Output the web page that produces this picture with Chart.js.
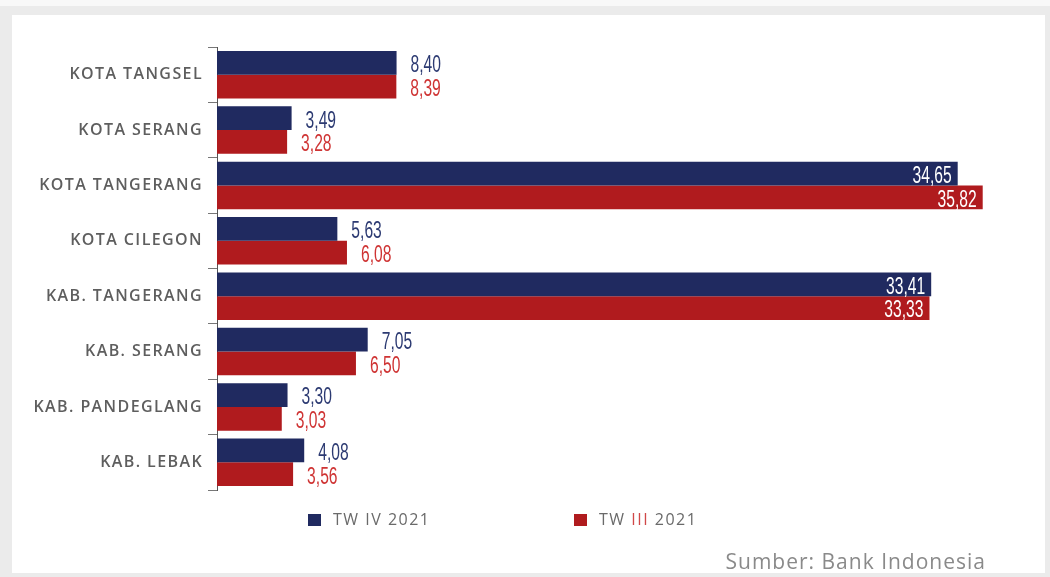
<!DOCTYPE html>
<html>
<head>
<meta charset="utf-8">
<script src="https://cdn.jsdelivr.net/npm/chart.js@4/dist/chart.umd.min.js"></script>
<style>
  html, body { margin: 0; padding: 0; background: #fff; }
  canvas { display: block; }
</style>
</head>
<body>
<canvas id="plot" width="1050" height="577"></canvas>
<script>
// Data
const wilayah = ['KOTA TANGSEL', 'KOTA SERANG', 'KOTA TANGERANG', 'KOTA CILEGON',
  'KAB. TANGERANG', 'KAB. SERANG', 'KAB. PANDEGLANG', 'KAB. LEBAK'];
const twIV2021 = [8.40, 3.49, 34.65, 5.63, 33.41, 7.05, 3.30, 4.08];
const twIII2021 = [8.39, 3.28, 35.82, 6.08, 33.33, 6.50, 3.03, 3.56];
const seriesLabels = ['TW IV 2021', 'TW III 2021'];
const sumber = 'Sumber: Bank Indonesia';

const navy = '#202a60';
const merah = '#b01b1e';
const abu = '#5e5e5e';

//Fondo con el marco gris
const marco = {
  id: 'marco',
  beforeDraw(chart) {
    let ctx = chart.ctx;
    ctx.fillStyle = '#ebebeb';
    ctx.fillRect(0, 0, chart.width, chart.height);
    ctx.fillStyle = '#f8f8f8';
    ctx.fillRect(0, 0, chart.width, 6);
    ctx.fillStyle = '#ffffff';
    ctx.fillRect(12, 15, 1033, 558);
    //espaciado de letras para las etiquetas del eje
    ctx.letterSpacing = '1.4px';
  },
  beforeDatasetsDraw(chart) {
    chart.ctx.letterSpacing = '0px';
  }
};

//Etiquetas de valores (formato con coma)
const etiquetas = {
  id: 'etiquetas',
  afterDatasetsDraw(chart) {
    let ctx = chart.ctx;
    let colores = ['#2c3a72', '#cf3434'];
    chart.data.datasets.forEach((ds, i) => {
      let meta = chart.getDatasetMeta(i);
      meta.data.forEach((bar, j) => {
        let v = ds.data[j];
        let txt = v.toFixed(2).replace('.', ',');
        let dentro = v > 30;
        ctx.save();
        ctx.letterSpacing = '0px';
        ctx.font = '23px "Liberation Sans", Arial, sans-serif';
        ctx.textBaseline = 'middle';
        ctx.translate(dentro ? bar.x - 6 : bar.x + 14, bar.y + 3);
        ctx.scale(0.68, 1);
        ctx.textAlign = dentro ? 'right' : 'left';
        ctx.fillStyle = dentro ? '#ffffff' : colores[i];
        ctx.fillText(txt, 0, 0);
        ctx.restore();
      });
    });
  }
};

//Leyenda y fuente
const leyenda = {
  id: 'leyenda',
  afterDraw(chart) {
    let ctx = chart.ctx;
    let xs = [308, 574];
    let y = 520;
    ctx.save();
    ctx.letterSpacing = '1.5px';
    ctx.font = '16px "Open Sans", sans-serif';
    ctx.textBaseline = 'middle';
    chart.data.datasets.forEach((ds, i) => {
      ctx.fillStyle = ds.backgroundColor;
      ctx.fillRect(xs[i], y - 6, 13, 12);
      let partes = ds.label.split(' ');
      let x = xs[i] + 25;
      partes.forEach((p, k) => {
        let txt = k < partes.length - 1 ? p + ' ' : p;
        ctx.fillStyle = (i == 1 && k == 1) ? '#d04848' : '#6a6a6a';
        ctx.fillText(txt, x, y);
        x += ctx.measureText(txt).width;
      });
    });
    ctx.letterSpacing = '1px';
    ctx.font = '21px "Open Sans", sans-serif';
    ctx.fillStyle = '#8a8a8a';
    ctx.textAlign = 'right';
    ctx.fillText(sumber, 986, 563);
    ctx.restore();
  }
};

let config = {
  type: 'bar',
  data: {
    labels: wilayah,
    datasets: [
      { label: seriesLabels[0], data: twIV2021, backgroundColor: navy, categoryPercentage: 0.86, barPercentage: 1 },
      { label: seriesLabels[1], data: twIII2021, backgroundColor: merah, categoryPercentage: 0.86, barPercentage: 1 }
    ]
  },
  options: {
    indexAxis: 'y',
    responsive: false,
    animation: false,
    layout: { padding: { top: 47, bottom: 87, right: 10, left: 0 } },
    plugins: {
      legend: { display: false },
      tooltip: { enabled: false }
    },
    scales: {
      x: {
        display: false,
        min: 0,
        max: 38.5
      },
      y: {
        afterFit: (scale) => { scale.width = 217; },
        grid: {
          offset: true,
          drawOnChartArea: false,
          drawTicks: true,
          tickLength: 9,
          color: '#777'
        },
        border: { display: true, color: '#555', width: 1 },
        ticks: {
          color: abu,
          padding: 5,
          font: { family: '"Open Sans", sans-serif', size: 16, weight: '600' }
        }
      }
    }
  },
  plugins: [marco, etiquetas, leyenda]
};

let chart1 = new Chart(document.getElementById('plot'), config);
</script>
</body>
</html>
